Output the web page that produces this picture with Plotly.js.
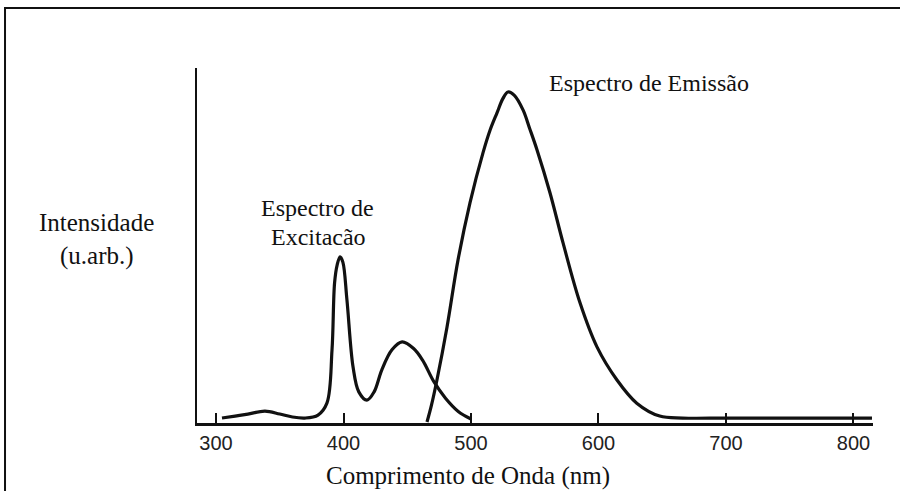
<!DOCTYPE html>
<html>
<head>
<meta charset="utf-8">
<script src="https://cdn.plot.ly/plotly-3.0.1.min.js"></script>
<style>html,body{margin:0;padding:0;background:#fff;}#chart{width:900px;height:491px;}</style>
</head>
<body>
<div id="chart"></div>
<script>
// Excitation spectrum (wavelength nm, arbitrary intensity)
var excWavelength = [304.7, 315, 325, 338.4, 350, 360, 370, 380, 387, 391, 393, 395, 397.3, 399.5, 402.7, 407.5, 412, 418.4, 424, 430, 438, 446, 455, 462, 471, 480, 490, 500];
var excIntensity  = [1.5, 2.1, 2.7, 3.6, 2.7, 1.8, 1.5, 2.4, 6.0, 22.1, 42.3, 47.7, 50.2, 48.6, 37.2, 16.9, 9.4, 6.9, 9.4, 16.0, 22.1, 24.5, 22.5, 19.0, 12.4, 7.5, 3.5, 1.2];

// Emission spectrum
var emiWavelength = [465.5, 469, 473.3, 481.2, 489.8, 499.2, 509.4, 515, 520.4, 525, 529, 534, 540.8, 546, 551.8, 562, 572.2, 585.5, 598.8, 614.5, 630, 648, 666, 700, 750, 814.5];
var emiIntensity  = [0.3, 5.4, 13.0, 29.0, 49.2, 66.5, 81.6, 88.5, 93.7, 98.0, 100, 99.0, 94.6, 89.0, 82.5, 69.5, 54.4, 36.3, 23.0, 13.0, 6.0, 2.1, 1.5, 1.5, 1.5, 1.5];

var tickValues = [300, 400, 500, 600, 700, 800];
var tickLabels = ['300', '400', '500', '600', '700', '800'];

var xTitle = 'Comprimento de Onda (nm)';
var yTitleLines = ['Intensidade', '(u.arb.)'];
var excLabelLines = ['Espectro de', 'Excitacão'];
var emiLabel = 'Espectro de Emissão';

var lineStyle = {color: '#111', width: 3.2, shape: 'spline', smoothing: 1};

var traces = [
  {x: excWavelength, y: excIntensity, mode: 'lines', line: lineStyle, name: 'Excitação', hoverinfo: 'x+y'},
  {x: emiWavelength, y: emiIntensity, mode: 'lines', line: lineStyle, name: 'Emissão', hoverinfo: 'x+y'}
];

var serif = 'Liberation Serif, Times New Roman, serif';

var layout = {
  width: 900, height: 491,
  margin: {l: 197, r: 27, t: 68, b: 68},
  paper_bgcolor: '#fff', plot_bgcolor: '#fff',
  showlegend: false,
  xaxis: {
    range: [285.1, 815.3], showgrid: false, zeroline: false,
    showline: true, linecolor: '#111', linewidth: 2.5,
    ticks: 'inside', ticklen: 10, tickwidth: 2, tickcolor: '#111',
    tickvals: tickValues, ticktext: tickLabels,
    tickfont: {family: 'Liberation Sans, Arial, sans-serif', size: 20, color: '#222'}
  },
  yaxis: {
    range: [0, 107.25], showgrid: false, zeroline: false,
    showline: true, linecolor: '#111', linewidth: 2.5,
    ticks: '', showticklabels: false
  },
  shapes: [
    {type: 'rect', xref: 'paper', yref: 'paper', x0: -0.284, x1: 1.3, y0: -0.4, y1: 1.169,
     line: {color: '#111', width: 2}, fillcolor: 'rgba(0,0,0,0)', layer: 'below'}
  ],
  annotations: [
    {text: yTitleLines[0], xref: 'paper', yref: 'paper', x: -0.1494, y: 0.566, showarrow: false, xanchor: 'center', yanchor: 'middle', font: {family: serif, size: 25, color: '#111'}},
    {text: yTitleLines[1], xref: 'paper', yref: 'paper', x: -0.148, y: 0.470, showarrow: false, xanchor: 'center', yanchor: 'middle', font: {family: serif, size: 25, color: '#111'}},
    {text: excLabelLines[0], xref: 'paper', yref: 'paper', x: 0.178, y: 0.606, showarrow: false, xanchor: 'center', yanchor: 'middle', font: {family: serif, size: 24, color: '#111'}},
    {text: excLabelLines[1], xref: 'paper', yref: 'paper', x: 0.179, y: 0.524, showarrow: false, xanchor: 'center', yanchor: 'middle', font: {family: serif, size: 24, color: '#111'}},
    {text: emiLabel, xref: 'paper', yref: 'paper', x: 0.669, y: 0.958, showarrow: false, xanchor: 'center', yanchor: 'middle', font: {family: serif, size: 24, color: '#111'}},
    {text: xTitle, xref: 'paper', yref: 'paper', x: 0.401, y: -0.148, showarrow: false, xanchor: 'center', yanchor: 'middle', font: {family: serif, size: 25, color: '#111'}}
  ]
};

Plotly.newPlot('chart', traces, layout, {displayModeBar: false, staticPlot: true});
</script>
</body>
</html>
